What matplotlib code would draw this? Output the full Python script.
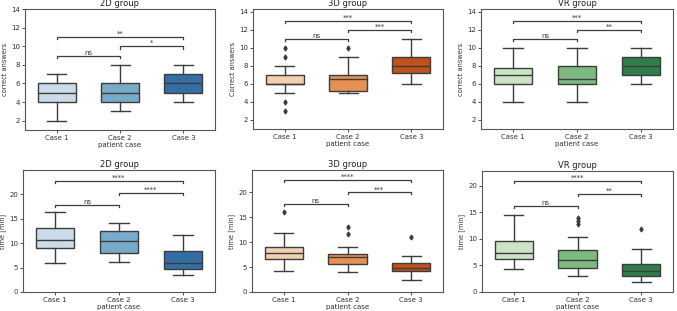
import colorsys
import matplotlib
matplotlib.use("Agg")
import matplotlib.pyplot as plt
import matplotlib.colors as mcolors

# ---- data ----
cases = ["Case 1", "Case 2", "Case 3"]
groups = ["2D group", "3D group", "VR group"]

# box stats: whislo, q1, med, q3, whishi
answers_2d = [[2, 4, 5, 6, 7], [3, 4, 5, 6, 8], [4, 5, 6, 7, 8]]
answers_3d = [[5, 6, 6, 7, 8], [5, 5.25, 6.5, 7, 9], [6, 7.25, 8, 9, 11]]
answers_vr = [[4, 6, 7, 7.75, 10], [4, 6, 6.5, 8, 10], [6, 7, 8, 9, 10]]
answers_fliers_2d = [[], [], []]
answers_fliers_3d = [[10, 9, 4, 3], [10], []]
answers_fliers_vr = [[], [], []]

time_2d = [[6.0, 9.1, 10.6, 13.2, 16.3], [6.1, 7.9, 10.5, 12.4, 14.2], [3.4, 4.7, 5.9, 8.3, 11.7]]
time_3d = [[4.2, 6.7, 7.9, 9.1, 11.9], [4.1, 5.7, 7.0, 7.6, 9.0], [2.5, 4.2, 4.8, 5.8, 7.3]]
time_vr = [[4.3, 6.2, 7.3, 9.6, 14.5], [3.0, 4.5, 6.1, 7.9, 10.3], [1.8, 3.1, 3.9, 5.2, 8.1]]
time_fliers_2d = [[], [], []]
time_fliers_3d = [[16.0], [13.1, 11.7], [11.1]]
time_fliers_vr = [[], [12.9, 13.4, 13.9], [11.9]]

# significance brackets: (case a, case b, height, label)
answers_sig_2d = [(0, 1, 9, "ns"), (1, 2, 10, "*"), (0, 2, 11, "**")]
answers_sig_3d = [(0, 1, 11, "ns"), (1, 2, 12, "***"), (0, 2, 13, "***")]
answers_sig_vr = [(0, 1, 11, "ns"), (1, 2, 12, "**"), (0, 2, 13, "***")]
time_sig_2d = [(0, 1, 17.8, "ns"), (1, 2, 20.3, "****"), (0, 2, 22.8, "****")]
time_sig_3d = [(0, 1, 17.6, "ns"), (1, 2, 20.0, "***"), (0, 2, 22.5, "****")]
time_sig_vr = [(0, 1, 16.2, "ns"), (1, 2, 18.5, "**"), (0, 2, 20.9, "****")]

palettes = {
    "2D group": ["#c6dbef", "#6baed6", "#2171b5"],
    "3D group": ["#fdd0a2", "#fd8d3c", "#d94701"],
    "VR group": ["#c7e9c0", "#74c476", "#238b45"],
}

LINE = "#3d3d3d"


def desat(c, prop=0.75):
    r, g, b = mcolors.to_rgb(c)
    h, l, s = colorsys.rgb_to_hls(r, g, b)
    return colorsys.hls_to_rgb(h, l, s * prop)


def draw(ax, stats, fliers, sigs, colors, title, ylabel, ylim, yticks, h):
    bxp_stats = []
    for s, f in zip(stats, fliers):
        bxp_stats.append(dict(whislo=s[0], q1=s[1], med=s[2], q3=s[3],
                              whishi=s[4], fliers=f))
    res = ax.bxp(bxp_stats, positions=range(3), widths=0.6, patch_artist=True,
                 boxprops=dict(edgecolor=LINE, linewidth=1.0),
                 medianprops=dict(color=LINE, linewidth=1.0),
                 whiskerprops=dict(color=LINE, linewidth=1.0),
                 capprops=dict(color=LINE, linewidth=1.0),
                 flierprops=dict(marker="d", markerfacecolor=LINE,
                                 markeredgecolor=LINE, markersize=2.5))
    for patch, c in zip(res["boxes"], colors):
        patch.set_facecolor(desat(c))
    for a, b, y, lab in sigs:
        ax.plot([a, a, b, b], [y - h, y, y, y - h], color=LINE, lw=0.9)
        ax.text((a + b) / 2, y, lab, ha="center", va="bottom",
                fontsize=5, color="#333333")
    ax.set_xlim(-0.5, 2.5)
    ax.set_ylim(*ylim)
    ax.set_yticks(yticks)
    ax.set_xticks(range(3))
    ax.set_xticklabels(cases)
    ax.set_title(title, fontsize=6, pad=2, color="#222222")
    ax.set_ylabel(ylabel, fontsize=4.8, labelpad=2, color="#333333")
    ax.set_xlabel("patient case", fontsize=5, labelpad=1, color="#333333")
    ax.tick_params(labelsize=5, length=2, width=0.6, pad=1.5, colors="#333333")
    for sp in ax.spines.values():
        sp.set_color("#555555")
        sp.set_linewidth(0.8)


fig = plt.figure(figsize=(6.77, 3.11), dpi=100)
W, H = 677, 311


def axes_px(x0, y0, x1, y1):
    return fig.add_axes([x0 / W, 1 - y1 / H, (x1 - x0) / W, (y1 - y0) / H])


top_boxes = [(25, 9, 215, 130), (253, 9, 443, 129), (481, 9, 673, 129)]
bottom_boxes = [(23, 170, 215, 292), (252, 170, 443, 292), (482, 171, 673, 292)]

ans_stats = [answers_2d, answers_3d, answers_vr]
ans_fliers = [answers_fliers_2d, answers_fliers_3d, answers_fliers_vr]
ans_sigs = [answers_sig_2d, answers_sig_3d, answers_sig_vr]
ans_ylims = [(1, 14), (1, 14.3), (1, 14.3)]

tm_stats = [time_2d, time_3d, time_vr]
tm_fliers = [time_fliers_2d, time_fliers_3d, time_fliers_vr]
tm_sigs = [time_sig_2d, time_sig_3d, time_sig_vr]
tm_ylims = [(0, 25), (0, 24.5), (0, 22.8)]

for i, g in enumerate(groups):
    ax = axes_px(*top_boxes[i])
    ylab = "Correct answers" if g == "3D group" else "correct answers"
    draw(ax, ans_stats[i], ans_fliers[i], ans_sigs[i], palettes[g], g,
         ylab, ans_ylims[i], range(2, 15, 2), 0.25)

    ax = axes_px(*bottom_boxes[i])
    draw(ax, tm_stats[i], tm_fliers[i], tm_sigs[i], palettes[g], g,
         "time [min]", tm_ylims[i], range(0, 21, 5), 0.4)

fig.savefig("out.png", dpi=100)
